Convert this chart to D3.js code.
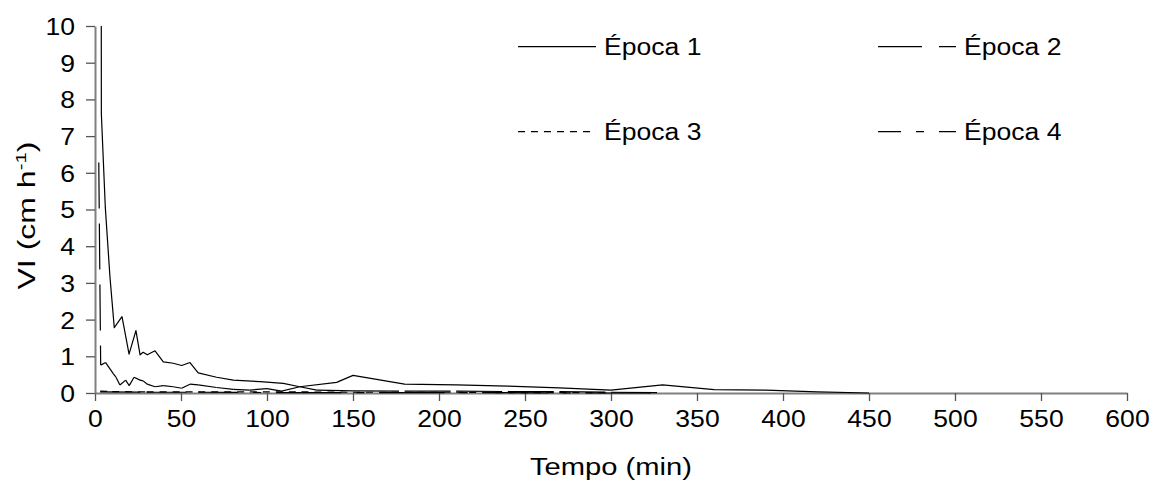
<!DOCTYPE html>
<html>
<head>
<meta charset="utf-8">
<script src="https://cdn.jsdelivr.net/npm/d3@7"></script>
<style>
  html, body { margin: 0; padding: 0; background: #fff; }
  svg { display: block; font-family: "Liberation Sans", Arial, sans-serif; }
</style>
</head>
<body>
<svg id="chart" width="1154" height="488"></svg>
<script>
// ---- data (time in min, VI in cm h-1) ----
const seriesNames = ["Época 1", "Época 2", "Época 3", "Época 4"];

const epoca1 = [
  [3.6, 13], [3.7, 7.6], [6.0, 5.05], [8.7, 3.16], [11.2, 1.78], [15.7, 2.08],
  [19.8, 1.06], [23.8, 1.70], [26.2, 1.04], [28.0, 1.11], [30.4, 1.04], [34.9, 1.15],
  [39.7, 0.85], [45.5, 0.81], [50.4, 0.75], [55.2, 0.83], [60.0, 0.55], [70.7, 0.43],
  [80.4, 0.35], [96.0, 0.31], [109.5, 0.26], [119, 0.17], [140.5, 0.29], [150, 0.48],
  [180, 0.24], [210, 0.22], [240, 0.19], [270, 0.14], [300, 0.08], [330, 0.22],
  [360, 0.09], [390, 0.08], [420, 0.03], [450, 0.0]
];

const epoca2 = [
  [2.2, 6.28], [3.3, 0.76], [6.2, 0.83], [10.7, 0.52], [12.2, 0.43], [14.5, 0.22],
  [17.8, 0.35], [19.9, 0.20], [22.7, 0.43], [26.2, 0.35], [28.0, 0.33], [30.4, 0.24],
  [34.9, 0.17], [39.7, 0.20], [45.5, 0.17], [50.4, 0.13], [55.2, 0.24], [60.0, 0.22],
  [70.7, 0.15], [80.4, 0.10], [90, 0.08], [100, 0.12], [108.5, 0.05], [119, 0.17],
  [129, 0.08], [150, 0.06], [180, 0.05], [210, 0.05], [240, 0.04], [270, 0.04],
  [300, 0.02], [330, 0.01]
];

const epoca3 = [
  [3, 0.05], [10, 0.04], [30, 0.03], [60, 0.03], [90, 0.03], [120, 0.03],
  [150, 0.02], [180, 0.02], [210, 0.02], [240, 0.01], [270, 0.01], [300, 0.01]
];

const epoca4 = [
  [3, 0.03], [30, 0.02], [60, 0.02], [120, 0.01], [180, 0.01], [240, 0.01],
  [300, 0.0], [330, 0.0]
];

const xTicks = [0, 50, 100, 150, 200, 250, 300, 350, 400, 450, 500, 550, 600];
const yTicks = [0, 1, 2, 3, 4, 5, 6, 7, 8, 9, 10];
const xTitle = "Tempo (min)";

// ---- layout ----
const svg = d3.select("#chart");
const pL = 95, pR = 1127, pT = 26, pB = 393;
const x = d3.scaleLinear().domain([0, 600]).range([pL, pR]);
const y = d3.scaleLinear().domain([0, 10]).range([pB, pT]);

const axisColor = "#808080";
const fontSize = 23.5;
const sx = 1.13; // horizontal stretch of the original text rendering

svg.append("defs").append("clipPath").attr("id", "plot")
  .append("rect").attr("x", pL - 2).attr("y", pT).attr("width", pR - pL + 4).attr("height", pB - pT + 2);

// axes
const xAxis = svg.append("g").attr("transform", `translate(0,${pB})`)
  .call(d3.axisBottom(x).tickValues(xTicks).tickSize(8).tickSizeOuter(0));
const yAxis = svg.append("g").attr("transform", `translate(${pL},0)`)
  .call(d3.axisLeft(y).tickValues(yTicks).tickSize(9).tickSizeOuter(0));
[xAxis, yAxis].forEach(g => {
  g.select(".domain").attr("stroke", axisColor).attr("stroke-width", 2);
  g.selectAll(".tick line").attr("stroke", "#555").attr("stroke-width", 1.3);
  g.selectAll(".tick text").attr("fill", "#000").attr("font-size", fontSize)
    .attr("font-family", "Liberation Sans, Arial, sans-serif");
});
xAxis.selectAll(".tick text").attr("y", 34).attr("dy", 0)
  .attr("transform", `scale(${sx},1)`);
yAxis.selectAll(".tick text").attr("x", -20 / sx).attr("dy", "0.36em")
  .attr("transform", `scale(${sx},1)`);

// axis titles
svg.append("text").attr("x", (pL + pR) / 2).attr("y", 475)
  .attr("text-anchor", "middle").attr("font-size", fontSize)
  .attr("textLength", 162).attr("lengthAdjust", "spacingAndGlyphs").text(xTitle);

const yt = svg.append("text")
  .attr("transform", `translate(35,${(pT + pB) / 2 + 6}) rotate(-90)`)
  .attr("text-anchor", "middle").attr("font-size", fontSize);
yt.append("tspan").text("VI (cm h");
yt.append("tspan").attr("font-size", 15).attr("dy", -9).text("-1");
yt.append("tspan").attr("dy", 9).text(")");
yt.attr("textLength", 148).attr("lengthAdjust", "spacingAndGlyphs");

// series
const line = d3.line().x(d => x(d[0])).y(d => y(d[1]));
const plot = svg.append("g").attr("clip-path", "url(#plot)");

const styles = [
  { data: epoca1, dash: null },
  { data: epoca2, dash: "46,15" },
  { data: epoca3, dash: "7,6" },
  { data: epoca4, dash: "40,15,8,15" }
];

styles.forEach(s => {
  if (!s.dash) {
    plot.append("path").attr("d", line(s.data)).attr("fill", "none")
      .attr("stroke", "#000").attr("stroke-width", 1.2).attr("stroke-linejoin", "round");
  } else {
    // dash pattern restarts on each segment
    plot.selectAll(null).data(d3.pairs(s.data)).enter().append("path")
      .attr("d", d => line(d)).attr("fill", "none")
      .attr("stroke", "#000").attr("stroke-width", 1.2)
      .attr("stroke-dasharray", s.dash);
  }
});

// legend
const legend = [
  { name: seriesNames[0], x: 518, y: 46.7, dash: null, off: 0 },
  { name: seriesNames[1], x: 878, y: 46.7, dash: "44,17", off: 0 },
  { name: seriesNames[2], x: 518, y: 131.7, dash: "7,6", off: 0 },
  { name: seriesNames[3], x: 878, y: 131.7, dash: "40,15,8,15", off: 17 }
];
legend.forEach(l => {
  svg.append("line").attr("x1", l.x).attr("x2", l.x + 78).attr("y1", l.y).attr("y2", l.y)
    .attr("stroke", "#000").attr("stroke-width", 1.2)
    .attr("stroke-dasharray", l.dash).attr("stroke-dashoffset", l.off);
  svg.append("text").attr("transform", `translate(${l.x + 86},${l.y + 8.5}) scale(${sx},1)`)
    .attr("font-size", fontSize).text(l.name);
});
</script>
</body>
</html>
